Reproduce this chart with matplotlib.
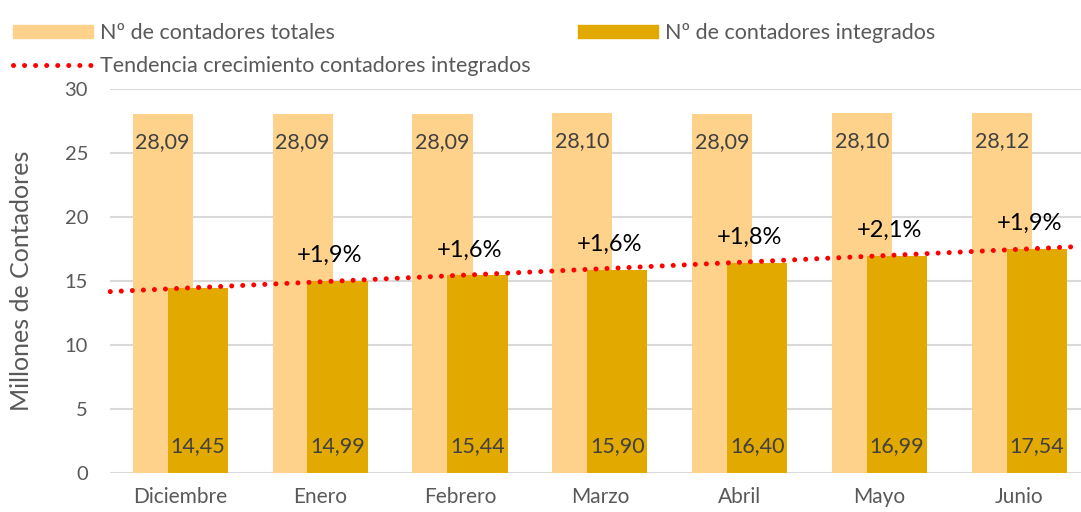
import numpy as np
import matplotlib
matplotlib.use("Agg")
import matplotlib.pyplot as plt
from matplotlib.lines import Line2D
from matplotlib.patches import Patch

plt.rcParams['font.family'] = ['Lato', 'DejaVu Sans']

# ---------------- DATA ---------------- #
meses = ["Diciembre", "Enero", "Febrero", "Marzo", "Abril", "Mayo", "Junio"]
totales = [28.09, 28.09, 28.09, 28.10, 28.09, 28.10, 28.12]
integrados = [14.45, 14.99, 15.44, 15.90, 16.40, 16.99, 17.54]
crecimiento = ["", "+1,9%", "+1,6%", "+1,6%", "+1,8%", "+2,1%", "+1,9%"]

c_tot = "#FED28A"
c_int = "#E2A900"
gris = "#595959"

# ---------------- FIGURE ---------------- #
fig = plt.figure(figsize=(10.81, 5.12), dpi=100)
ax = fig.add_axes([0.102, 0.076, 0.898, 0.75])

x = np.arange(len(meses))
w = 0.43
off = 0.125

ax.bar(x - off, totales, w, color=c_tot, zorder=2)
ax.bar(x + off, integrados, w, color=c_int, zorder=3)

# trend line (linear fit of integrated meters)
xlim = (-0.5, 6.44)
m, b = np.polyfit(x, integrados, 1)
xt = np.linspace(xlim[0], xlim[1], 50)
ax.plot(xt, m * xt + b, color="red", lw=3.6, linestyle=(0, (0.01, 2.2)),
        dash_capstyle="round", zorder=4, clip_on=False)

# labels
for i in range(len(meses)):
    ax.text(x[i] - off, totales[i] - 2.2, f"{totales[i]:.2f}".replace(".", ","),
            ha="center", va="center", fontsize=15.5, color="#404040", zorder=5)
    ax.text(x[i] + off, 2.1, f"{integrados[i]:.2f}".replace(".", ","),
            ha="center", va="center", fontsize=15.5, color="#404040", zorder=5)
    if crecimiento[i]:
        ax.text(x[i] + 0.07, integrados[i] + 2.0, crecimiento[i],
                ha="center", va="center", fontsize=17, color="black", zorder=5)

ax.set_xlim(*xlim)
ax.set_ylim(0, 30)
ax.set_yticks(range(0, 31, 5))
ax.set_xticks(x)
ax.set_xticklabels(meses)
ax.tick_params(axis="both", length=0, labelcolor=gris)
ax.tick_params(axis="x", pad=10, labelsize=15)
ax.tick_params(axis="y", pad=16, labelsize=14.5)
ax.yaxis.grid(True, color="#D9D9D9", lw=1.5, zorder=0)
ax.set_axisbelow(True)
for s in ax.spines.values():
    s.set_visible(False)
ax.set_ylabel("Millones de Contadores", fontsize=18, color=gris, labelpad=23)

# ---------------- LEGEND ---------------- #
handles = [
    Patch(color=c_tot, label="Nº de contadores totales"),
    Line2D([], [], color="red", lw=3.6, linestyle=(0, (0.01, 2.2)),
           dash_capstyle="round", label="Tendencia crecimiento contadores integrados"),
    Patch(color=c_int, label="Nº de contadores integrados"),
]
fig.legend(handles=handles, ncol=2, loc="upper left", bbox_to_anchor=(0.0, 0.98),
           frameon=False, fontsize=15.5, labelcolor=gris, handlelength=3.7,
           handleheight=0.6, handletextpad=0.35, columnspacing=2.2, labelspacing=0.6,
           borderaxespad=0.2)

fig.savefig("out.png", dpi=100)
